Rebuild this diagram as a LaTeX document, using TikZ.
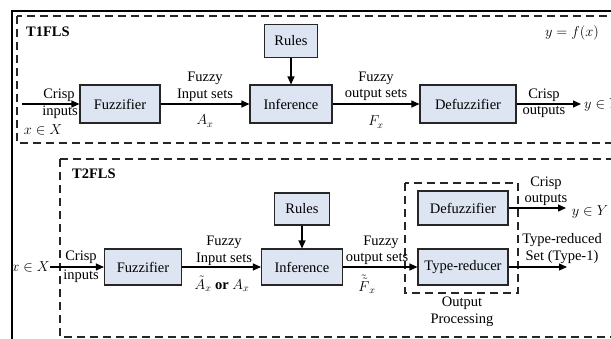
\documentclass[tikz,border=0pt]{standalone}
\usepackage{fontspec}
\setmainfont{Liberation Serif}
\usetikzlibrary{arrows.meta, positioning}
\definecolor{blkfill}{RGB}{221,229,242}
\begin{document}
\begin{tikzpicture}[x=1pt,y=-1pt,
	every node/.style={font=\fontsize{14.5}{16}\selectfont,inner sep=0pt},
	blk/.style={draw=black!85,line width=1.1pt,fill=blkfill,inner sep=2pt},
	grp/.style={draw=black!85,line width=1.4pt,dash pattern=on 8pt off 5pt},
	arr/.style={line width=1.1pt,-{Triangle[length=8pt,width=7pt]}}]
\useasboundingbox (0,0) rectangle (611,338);
\clip (0,0) rectangle (611,338);
\draw[line width=1.2pt] (12,350) -- (12,11) -- (630,11);
% T1FLS
\draw[grp] (17,16) rectangle (640,143);
\node[anchor=west,font=\fontsize{14.5}{16}\selectfont\bfseries] (t1) at (26,32) {T1FLS};
\node (yfx) at (572,33) {$y=f(x)$};
\node[blk,minimum width=53pt,minimum height=33pt] (rules1) at (291,41) {Rules};
\node[blk,minimum width=80pt,minimum height=38pt] (fuzz1) at (120,104) {Fuzzifier};
\node[blk,minimum width=82pt,minimum height=38pt] (infer1) at (291,104) {Inference};
\node[blk,minimum width=96pt,minimum height=38pt] (defuzz1) at (468,104) {Defuzzifier};
\coordinate (in1) at (22,104);
\coordinate (out1) at (581,104);
\draw[arr] (in1) -- (fuzz1);
\draw[arr] (fuzz1) -- (infer1);
\draw[arr] (rules1) -- (infer1);
\draw[arr] (infer1) -- (defuzz1);
\draw[arr] (defuzz1) -- (out1);
\node (crisp1) at (59,95) {Crisp};
\node (inputs1) at (60,112) {inputs};
\node (xin1) at (43,130) {$x\in X$};
\node (fz1) at (205,78) {Fuzzy};
\node (ins1) at (205,95) {Input sets};
\node (ax1) at (205,121) {$A_x$};
\node (fz2) at (376,78) {Fuzzy};
\node (outs1) at (376,95) {output sets};
\node (fx1) at (376,122) {$F_x$};
\node (crisp2) at (544,95) {Crisp};
\node (outputs1) at (544,112) {outputs};
\node[anchor=west] (yout1) at (584,105) {$y\in Y$};
% T2FLS
\draw[grp] (60,159) rectangle (640,337);
\node[anchor=west,font=\fontsize{14.5}{16}\selectfont\bfseries] (t2) at (72,174) {T2FLS};
\draw[grp] (405,183) rectangle (518,293);
\node[blk,minimum width=55pt,minimum height=32pt] (rules2) at (302,209) {Rules};
\node[blk,minimum width=77pt,minimum height=36pt] (fuzz2) at (143,267) {Fuzzifier};
\node[blk,minimum width=81pt,minimum height=36pt] (infer2) at (302,267) {Inference};
\node[blk,minimum width=90pt,minimum height=34pt] (defuzz2) at (463,208) {Defuzzifier};
\node[blk,minimum width=90pt,minimum height=36pt] (tred) at (463,267) {Type-reducer};
\node[anchor=east] (xin2) at (50,267) {$x\in X$};
\coordinate (out2) at (566,208);
\coordinate (out3) at (567,267);
\draw[arr] (xin2) -- (fuzz2);
\draw[arr] (fuzz2) -- (infer2);
\draw[arr] (rules2) -- (infer2);
\draw[arr] (infer2) -- (tred);
\draw[arr] (defuzz2) -- (out2);
\draw[arr] (tred) -- (out3);
\node (crisp3) at (81,257) {Crisp};
\node (inputs2) at (81,276) {inputs};
\node (fz3) at (224,242) {Fuzzy};
\node (ins2) at (224,259) {Input sets};
\node (ax2) at (222,284) {$\tilde{A}_x$ \textbf{or} $A_x$};
\node (fz4) at (381,242) {Fuzzy};
\node (outs2) at (377,259) {output sets};
\node (fx2) at (367,284) {$\tilde{\tilde{F}}_x$};
\node (crisp4) at (546,183) {Crisp};
\node (outputs2) at (546,200) {outputs};
\node (yout2) at (590,212) {$y\in Y$};
\node (trs) at (562,240) {Type-reduced};
\node (trs2) at (562,257) {Set (Type-1)};
\node (op1) at (462,303) {Output};
\node (op2) at (462,320) {Processing};
\end{tikzpicture}
\end{document}
